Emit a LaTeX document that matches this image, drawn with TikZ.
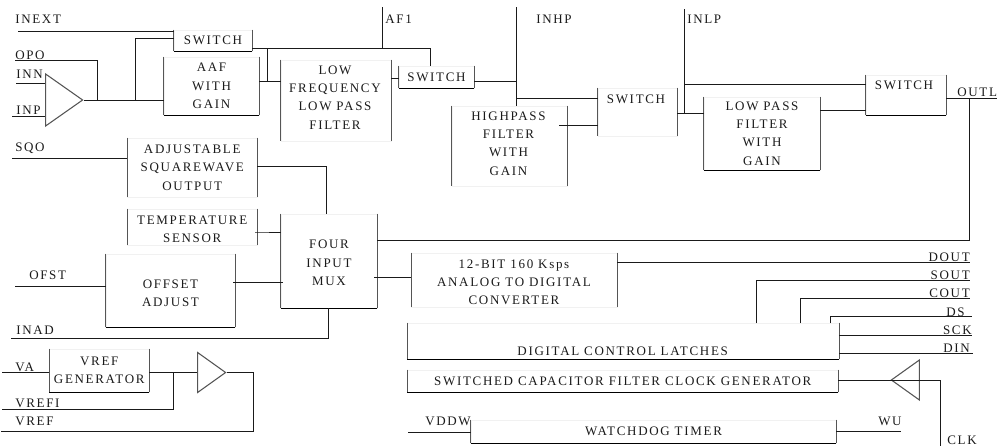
\documentclass[tikz,border=0pt]{standalone}
\usepackage{fontspec}
\usepackage{xcolor}
\usetikzlibrary{positioning, shapes.geometric, calc}
\setmainfont[LetterSpace=13]{Liberation Serif}
\definecolor{cInk}  {HTML}{1A1A1A}
\definecolor{cFaint}{HTML}{F1F1F1}
\definecolor{cSide} {HTML}{555555}
\tikzset{
  wire/.style={line width=0.75pt, draw=cInk},
  boxtext/.style={font=\fontsize{9.75}{13.7}\selectfont, text=cInk, align=center, inner sep=0pt},
  block/.style 2 args={boxtext, draw=cFaint, line width=0.5pt,
    minimum width=#1*0.75pt, minimum height=#2*0.75pt},
  sideline/.style={line width=1pt, draw=cSide},
  bottomline/.style={line width=0.8pt, draw=black},
  ampbuf/.style n args={3}{isosceles triangle, isosceles triangle stretches, draw=cSide,
    line width=0.8pt, inner sep=0pt, shape border rotate=#3, anchor=apex,
    minimum height=#1*0.75pt, minimum width=#2*0.75pt},
}
\begin{document}
\begin{tikzpicture}[x=0.75pt, y=-0.75pt]
  \useasboundingbox (0,0) rectangle (997,446);

  \node[block={78}{21}] (sw1) at (213,40.5) {SWITCH};
  \node[block={95}{58}] (aaf) at (211.5,86) {AAF\\WITH\\GAIN};
  \node[block={110}{81}] (lflp) at (336,100.5) {};
  \node[block={75}{22}] (sw2) at (436.5,77) {SWITCH};
  \node[block={115}{80}] (hp) at (509.5,146) {};
  \node[block={79}{48}] (sw3) at (637.5,112) {};
  \node[block={116}{73}] (lp) at (762,133.5) {LOW PASS\\FILTER\\WITH\\GAIN};
  \node[block={80}{40}] (sw4) at (906,95) {};
  \node[block={129.5}{59}] (sqw) at (192.25,167.5) {ADJUSTABLE\\SQUAREWAVE\\OUTPUT};
  \node[block={129.5}{36}] (temp) at (192.25,227) {};
  \node[block={96}{94}] (mux) at (329,261) {};
  \node[block={129}{73}] (ofs) at (170.5,290.5) {};
  \node[block={205.5}{54}] (adc) at (514.25,280) {};
  \node[block={431.5}{36}] (latch) at (623.25,341) {};
  \node[block={430.5}{22}] (clkgen) at (622.75,381) {SWITCHED CAPACITOR FILTER CLOCK GENERATOR};
  \node[block={365}{23}] (wdog) at (653.5,431.5) {WATCHDOG TIMER};
  \node[block={99.5}{43}] (vgen) at (99.25,370.5) {VREF\\GENERATOR};

  \node[boxtext] (lflptext) at (335,97.5) {LOW\\FREQUENCY\\LOW PASS\\FILTER};
  \node[boxtext] (hptext) at (508.5,143.5) {HIGHPASS\\FILTER\\WITH\\GAIN};
  \node[boxtext] (sw3text) at (636,99) {SWITCH};
  \node[boxtext] (sw4text) at (904,85) {SWITCH};
  \node[boxtext] (temptext) at (192.25,229) {TEMPERATURE\\SENSOR};
  \node[boxtext] (muxtext) at (329,263) {FOUR\\INPUT\\MUX};
  \node[boxtext] (ofstext) at (170.5,293) {OFFSET\\ADJUST};
  \node[boxtext] (adctext) at (514,282.5) {12-BIT 160 Ksps\\ANALOG TO DIGITAL\\CONVERTER};
  \node[boxtext] (latchtext) at (622.7,351.7) {DIGITAL CONTROL LATCHES};

  \foreach \name in {sw1, aaf, lflp, sw2, hp, sw3, lp, sw4, sqw, temp, mux, ofs, adc, latch, clkgen, wdog, vgen}{
    \draw[sideline] (\name.north west) -- (\name.south west);
    \draw[sideline] (\name.north east) -- (\name.south east);
  }
  \foreach \name in {sw1, aaf, sw2, lp, sw4, mux, ofs, latch, clkgen, wdog, vgen}{
    \draw[bottomline] (\name.south west) -- (\name.south east);
  }

  \node[ampbuf={37}{52}{0}] (amp1) at (84,100) {};
  \node[ampbuf={28}{40}{0}] (amp2) at (227,372.5) {};
  \node[ampbuf={28}{40}{180}] (amp3) at (890,380) {};

  \foreach \name/\x/\y in {
    inext/18/31.3, opo/15/60.7, inn/16/83, inp/12/116, sqo/12/158.5, ofst/15/286.7, inad/11/338.3,
    va/2/372.7, vrefi/2/409.3, vref/1/431, af/382/7, inhp/516/7, inlp/684/9, outl/997/98.3,
    dout/970/262, sout/970/280.3, cout/970/298.7, ds/972/316, sck/972/335.3, din/973/353.7,
    wu/901/431, clk/940/446, vddw/408/432.7}{
    \coordinate (\name) at (\x,\y);
  }

  \foreach \name/\txt/\x/\y in {
    linext/INEXT/15/19.5, lopo/OPO/15/55, linn/INN/16/74, linp/INP/16/110, lsqo/SQO/15/148,
    laf/AF1/385/19.5, linhp/INHP/536/19, linlp/INLP/687/19, loutl/OUTL/957/92,
    lofst/OFST/29/275, linad/INAD/16/330, lva/VA/15/367, lvrefi/VREFI/15/403, lvref/VREF/15/421,
    lvddw/VDDW/425/421, lwu/WU/878/421, lclk/CLK/947/440}{
    \node[boxtext, anchor=west] (\name) at (\x,\y) {\txt};
  }
  \foreach \name/\txt/\x/\y in {
    ldout/DOUT/970/257, lsout/SOUT/970/275, lcout/COUT/970/293, lds/DS/965/312,
    lsck/SCK/972/330, ldin/DIN/970/348}{
    \node[boxtext, anchor=east] (\name) at (\x,\y) {\txt};
  }

  \coordinate (ampout) at (135,100);
  \coordinate (swbus) at (267.5,48.7);
  \coordinate (hpnode) at (516,98.3);
  \coordinate (lpnode) at (684,113.3);
  \coordinate (outdrop) at (969,98.3);
  \coordinate (vnode) at (173,372.7);

  \draw[wire] (inext) -- (inext -| sw1.west);
  \draw[wire] (ampout) -- (135,38) -- (sw1.west |- 0,38);
  \draw[wire] (opo) -- (97,60.7) -- (97,100);
  \draw[wire] (inn) -- (inn -| amp1.west);
  \draw[wire] (inp) -- (inp -| amp1.west);
  \draw[wire] (amp1.apex) -- (amp1.apex -| aaf.west);
  \draw[wire] (swbus -| sw1.east) -- (430,48.7) -- (430,0 |- sw2.north);
  \draw[wire] (af) -- (af |- swbus);
  \draw[wire] (swbus) -- (267.5,81);
  \draw[wire] (aaf.east |- 0,81) -- (lflp.west |- 0,81);
  \draw[wire] (lflp.east |- 0,78) -- (sw2.west |- 0,78);
  \draw[wire] (sw2.east |- 0,81) -- (517,81);
  \draw[wire] (inhp) -- (inhp |- hp.north);
  \draw[wire] (hpnode) -- (hpnode -| sw3.west);
  \draw[wire] (559,125) -- (sw3.west |- 0,125);
  \draw[wire] (sw3.east |- lpnode) -- (lpnode -| lp.west);
  \draw[wire] (inlp) -- (lpnode);
  \draw[wire] (684,84.3) -- (sw4.west |- 0,84.3);
  \draw[wire] (lp.east |- 0,110) -- (sw4.west |- 0,110);
  \draw[wire] (sw4.east |- outl) -- (outl);
  \draw[wire] (outdrop) -- (969,240) -- (mux.east |- 0,240);
  \draw[wire] (sqo) -- (sqo -| sqw.west);
  \draw[wire] (sqw.east |- 0,166) -- (326,166) -- (326,214);
  \draw[wire] (255,232) -- (temp.east |- 0,232) -- (mux.west |- 0,232);
  \draw[wire] (ofst) -- (ofst -| ofs.west);
  \draw[wire] (233,282.3) -- (283,282.3);
  \draw[wire] (374,277) -- (adc.west |- 0,277);
  \draw[wire] (inad) -- (328.3,338.3) -- (328.3,308);
  \draw[wire] (va) -- (va -| vgen.west);
  \draw[wire] (vgen.east |- va) -- (va -| amp2.west);
  \draw[wire] (vrefi) -- (173,409.3) -- (vnode);
  \draw[wire] (amp2.apex) -- (253,372.5) -- (253,431) -- (vref);
  \draw[wire] (adc.east |- dout) -- (dout);
  \draw[wire] (756,323) -- (756,280.3) -- (sout);
  \draw[wire] (800,323) -- (800,298.7) -- (cout);
  \draw[wire] (830,323) -- (830,316) -- (ds);
  \draw[wire] (latch.east |- sck) -- (sck);
  \draw[wire] (latch.east |- din) -- (din);
  \draw[wire] (clkgen.east |- amp3.apex) -- (amp3.apex);
  \draw[wire] (amp3.west |- amp3.apex) -- (940,380) -- (clk);
  \draw[wire] (wdog.east |- wu) -- (wu);
  \draw[wire] (vddw) -- (vddw -| wdog.west);
\end{tikzpicture}
\end{document}
